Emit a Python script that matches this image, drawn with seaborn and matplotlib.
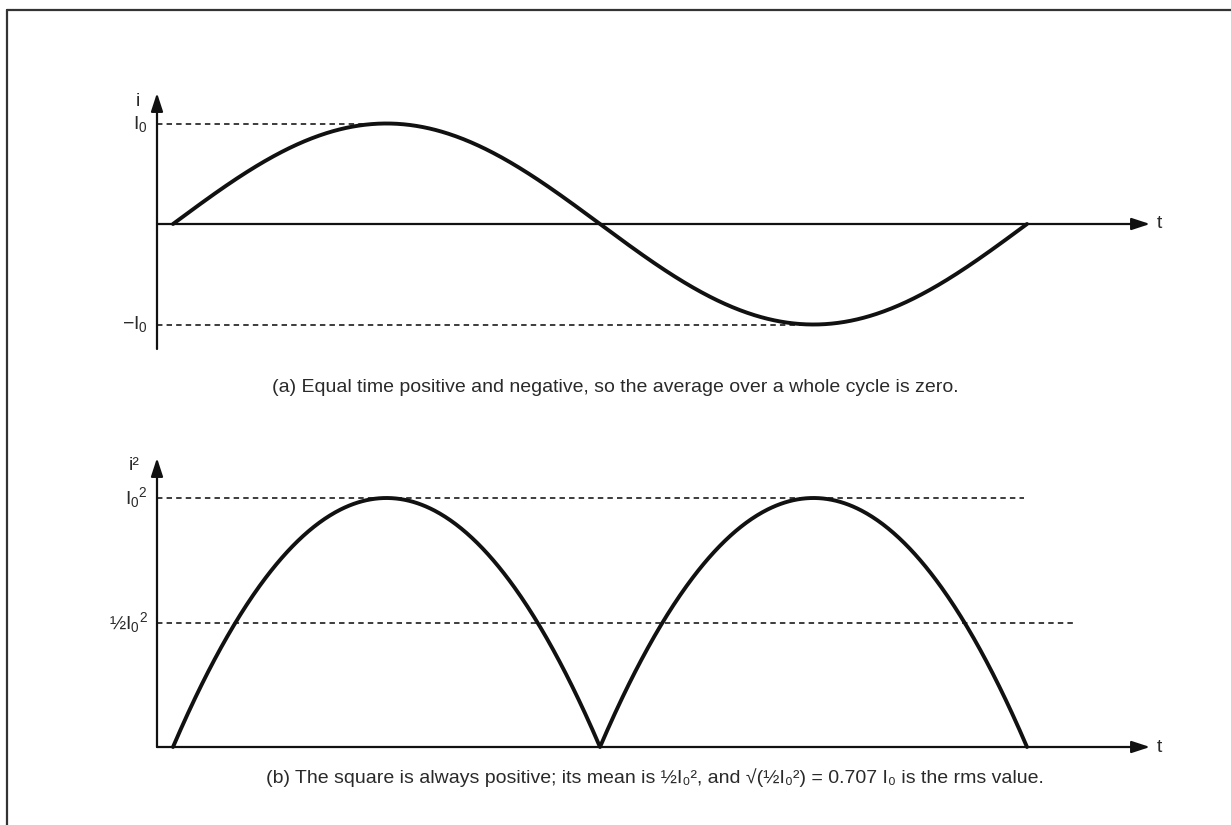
import numpy as np
import pandas as pd
import matplotlib
matplotlib.use("Agg")
import matplotlib.pyplot as plt
import seaborn as sns

# ---- values ------------------------------------------------------------
# time is measured in whole cycles (0 .. 1), current in units of I0
cycle_start = 0.0
cycle_end = 1.0
peak_current = 1.0          # I0
peak_square = 1.0           # I0^2
mean_square = 0.5           # 1/2 I0^2

top_level_labels = [r"$\mathregular{I_0}$", r"$\mathregular{-I_0}$"]
bottom_level_labels = [r"$\mathregular{I_0{}^2}$", r"½$\mathregular{I_0{}^2}$"]
top_axis_label = "i"
bottom_axis_label = "i²"
time_label = "t"
caption_a = "(a) Equal time positive and negative, so the average over a whole cycle is zero."
caption_b = ("(b) The square is always positive; its mean is ½I₀², and "
             "√(½I₀²) = 0.707 I₀ is the rms value.")

# dashed reference lines end where the curve reaches them (in cycles)
top_dash_ends = [0.25, 0.75]
bottom_dash_ends = [0.997, 1.056]

# ---- curves ------------------------------------------------------------
t = np.linspace(cycle_start, cycle_end, 801)
current = peak_current * np.sin(2 * np.pi * t)
u = (2 * t) % 1.0
u[-1] = 1.0
square = peak_square * 4 * u * (1 - u)     # one arch per half cycle
df_top = pd.DataFrame({"t": t, "i": current})
df_bot = pd.DataFrame({"t": t, "i2": square})

# ---- figure ------------------------------------------------------------
sns.set_theme(style="white")
plt.rcParams["font.family"] = ["Liberation Sans", "DejaVu Sans"]
plt.rcParams["mathtext.fontset"] = "custom"
plt.rcParams["mathtext.rm"] = "Liberation Sans"

W, H = 1231, 825
fig = plt.figure(figsize=(W / 100, H / 100), dpi=100)
fig.patch.set_facecolor("white")

ink = "#111111"
text_col = "#2a2a2a"
x_px0, x_per = 173.0, 854.0           # cycle start and length on the page
xl = (-x_px0 / x_per, (W - x_px0) / x_per)
axis_x = (157 - x_px0) / x_per
arrow_x = (1150 - x_px0) / x_per
label_x = (1157 - x_px0) / x_per
tick_lab_x = (148 - x_px0) / x_per

# top panel: pixel rows 0..412, zero at 224, I0 at 124
split = 412
ax1 = fig.add_axes([0, 1 - split / H, 1, split / H])
s1 = 100.5
ax1.set_xlim(*xl)
ax1.set_ylim((224 - split) / s1, 224 / s1)

# bottom panel: pixel rows 412..825, zero at 747, I0^2 at 498
ax2 = fig.add_axes([0, 0, 1, (H - split) / H])
s2 = 249.0
ax2.set_xlim(*xl)
ax2.set_ylim((747 - H) / s2, (747 - split) / s2)

for ax in (ax1, ax2):
    ax.set_axis_off()

arrow_kw = dict(arrowstyle="-|>,head_length=1.1,head_width=0.36",
                mutation_scale=10, lw=1.6, color=ink, shrinkA=0, shrinkB=0)
dash_kw = dict(color=ink, lw=1.15, dashes=(3.4, 2.6))
lab_fs = 14
cap_fs = 14

# ---- top: i(t) ----------------------------------------------------------
ax1.annotate("", xy=(arrow_x, 0), xytext=(axis_x, 0), arrowprops=arrow_kw)
ax1.annotate("", xy=(axis_x, (224 - 93) / s1), xytext=(axis_x, (224 - 349) / s1),
             arrowprops=arrow_kw)
ax1.plot([axis_x, top_dash_ends[0]], [peak_current] * 2, **dash_kw)
ax1.plot([axis_x, top_dash_ends[1]], [-peak_current] * 2, **dash_kw)
sns.lineplot(data=df_top, x="t", y="i", ax=ax1, color=ink, lw=2.8,
             sort=False, legend=False)
ax1.text(tick_lab_x, peak_current, top_level_labels[0], ha="right", va="center",
         fontsize=lab_fs, color=text_col)
ax1.text(tick_lab_x, -peak_current, top_level_labels[1], ha="right", va="center",
         fontsize=lab_fs, color=text_col)
ax1.text((138 - x_px0) / x_per, (224 - 102) / s1, top_axis_label, ha="center",
         va="center", fontsize=lab_fs, color=text_col)
ax1.text(label_x, 0, time_label, ha="left", va="center", fontsize=lab_fs,
         color=text_col)
ax1.text((615 - x_px0) / x_per, (224 - 388) / s1, caption_a, ha="center",
         va="center", fontsize=cap_fs, color=text_col)

# ---- bottom: i^2(t) -----------------------------------------------------
ax2.annotate("", xy=(arrow_x, 0), xytext=(axis_x, 0), arrowprops=arrow_kw)
ax2.annotate("", xy=(axis_x, (747 - 458) / s2), xytext=(axis_x, 0),
             arrowprops=arrow_kw)
ax2.plot([axis_x, bottom_dash_ends[0]], [peak_square] * 2, **dash_kw)
ax2.plot([axis_x, bottom_dash_ends[1]], [mean_square] * 2, **dash_kw)
sns.lineplot(data=df_bot, x="t", y="i2", ax=ax2, color=ink, lw=2.8,
             sort=False, legend=False)
ax2.text(tick_lab_x, peak_square, bottom_level_labels[0], ha="right", va="center",
         fontsize=lab_fs, color=text_col)
ax2.text(tick_lab_x, mean_square, bottom_level_labels[1], ha="right", va="center",
         fontsize=lab_fs, color=text_col)
ax2.text((134 - x_px0) / x_per, (747 - 466) / s2, bottom_axis_label, ha="center",
         va="center", fontsize=lab_fs, color=text_col)
ax2.text(label_x, 0, time_label, ha="left", va="center", fontsize=lab_fs,
         color=text_col)
ax2.text((655 - x_px0) / x_per, (747 - 778) / s2, caption_b, ha="center",
         va="center", fontsize=cap_fs, color=text_col)

# ---- frame -------------------------------------------------------------
fx, fy = 7 / W, 1 - 10 / H
fig.add_artist(plt.Line2D([fx, 1.0], [fy, fy], transform=fig.transFigure,
                          color="#333333", lw=1.6))
fig.add_artist(plt.Line2D([fx, fx], [fy, 0.0], transform=fig.transFigure,
                          color="#333333", lw=1.6))

fig.savefig("out.png", dpi=100, facecolor="white")
